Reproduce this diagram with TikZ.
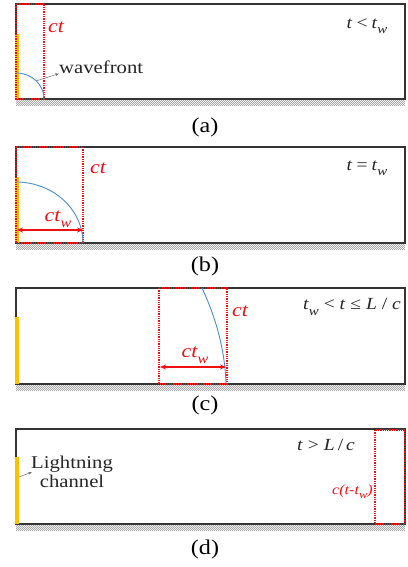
\documentclass[tikz,border=0pt]{standalone}
\usepackage{fontspec}
\setmainfont{Liberation Serif}[FakeStretch=1.15]
\usetikzlibrary{arrows.meta}
\definecolor{chanyellow}{HTML}{FFC000}
\definecolor{wblue}{HTML}{4A90D0}
\definecolor{redd}{HTML}{F01010}
\definecolor{boxgray}{HTML}{333333}
\newcommand\mysub[2]{\raisebox{-0.3em}{\fontsize{#1}{#1}\selectfont\itshape #2}}
\newcommand\myground[1]{%
  \begin{scope}
    \clip (16,#1) rectangle (405,#1+7);
    \foreach \hx in {8,10,...,408} {\draw[hatchline] (\hx,#1+7) -- (\hx+7,#1);}
  \end{scope}}
\tikzset{
  boxline/.style={draw=boxgray, line width=1.3pt},
  hatchline/.style={draw=black!40, line width=0.4pt},
  reddot/.style={draw=redd, densely dotted, line width=1.3pt},
  chan/.style={draw=chanyellow, line width=3.5pt},
  wave/.style={draw=wblue, line width=0.9pt},
  redlbl/.style={text=redd, font=\fontsize{19}{19}\selectfont\itshape, inner sep=0pt},
  smallredlbl/.style={text=redd, font=\fontsize{14}{14}\selectfont\itshape, inner sep=0pt},
  condlbl/.style={text=black!85, font=\fontsize{17}{17}\selectfont, inner sep=0pt},
  annot/.style={text=black!85, font=\fontsize{18}{19}\selectfont, inner sep=0pt},
  caplbl/.style={font=\fontsize{21}{21}\selectfont, inner sep=0pt},
  grayarrow/.style={draw=black!55, line width=0.5pt, -{Stealth[length=4pt,width=3pt]}},
  widtharrow/.style={draw=redd, line width=1.2pt, {Stealth[length=6pt,width=5pt]}-{Stealth[length=6pt,width=5pt]}},
}
\begin{document}
\begin{tikzpicture}[x=1pt,y=-1pt]
\useasboundingbox (0,0) rectangle (407,567);
\fill[white] (0,0) rectangle (407,567);

% ---------- panel (a) ----------
\begin{scope}[shift={(0,4)}]
  \myground{95}
  \draw[boxline] (16,0) rectangle (405,95);
  \draw[chan] (17,30) -- (17,95);
  \draw[reddot] (16,0) rectangle (44,95);
  \draw[wave] plot[domain=0:90, smooth, samples=30] ({16+28*cos(\x)},{95-26*sin(\x)});
  \coordinate (wa) at (36,77);
  \node[redlbl, anchor=west] (cta) at (48,23) {ct};
  \node[annot, anchor=west] (wf) at (59,63) {wavefront};
  \draw[grayarrow] (wa) -- (wf.south west);
  \node[condlbl] (conda) at (367,22) {\textit{t}\hspace{4pt}<\hspace{4pt}\textit{t}\mysub{13}{w}};
  \node[caplbl] (capa) at (205,123) {(a)};
\end{scope}

% ---------- panel (b) ----------
\begin{scope}[shift={(0,147)}]
  \myground{96}
  \draw[boxline] (16,0) rectangle (405,96);
  \draw[chan] (17,30) -- (17,96);
  \draw[reddot] (16,0) rectangle (83,96);
  \draw[wave] plot[domain=0:90, smooth, samples=40] ({16+67*cos(\x)},{96-61*sin(\x)});
  \coordinate (bl) at (17,83);
  \coordinate (br) at (83,83);
  \draw[widtharrow] (bl) -- (br);
  \node[redlbl] (ctwb) at (58,72) {ct\mysub{14}{w}};
  \node[redlbl, anchor=west] (ctb) at (90,21) {ct};
  \node[condlbl] (condb) at (367,21) {\textit{t}\hspace{4pt}=\hspace{4pt}\textit{t}\mysub{13}{w}};
  \node[caplbl] (capb) at (205,119) {(b)};
\end{scope}

% ---------- panel (c) ----------
\begin{scope}[shift={(0,288)}]
  \myground{96}
  \draw[boxline] (16,0) rectangle (405,96);
  \draw[chan] (17,29) -- (17,96);
  \draw[reddot] (159,0) rectangle (227,96);
  \draw[wave] (202,0) .. controls (216,30) and (225,62) .. (226,96);
  \coordinate (cl) at (160,79);
  \coordinate (cr) at (226,79);
  \draw[widtharrow] (cl) -- (cr);
  \node[redlbl] (ctwc) at (195,67) {ct\mysub{14}{w}};
  \node[redlbl, anchor=west] (ctc) at (232,23) {ct};
  \node[condlbl, anchor=east] (condc) at (401,19) {\textit{t}\mysub{13}{w} < \textit{t} ≤ \textit{L} / \textit{c}};
  \node[caplbl] (capc) at (205,117) {(c)};
\end{scope}

% ---------- panel (d) ----------
\begin{scope}[shift={(0,429)}]
  \myground{95}
  \draw[boxline] (16,0) rectangle (405,95);
  \draw[chan] (17,28) -- (17,95);
  \draw[reddot] (375,1) rectangle (405,95);
  \node[smallredlbl, anchor=east] (ctd) at (373,63) {c(t-t\mysub{11}{w})};
  \node[condlbl] (condd) at (326,16) {\textit{t}\hspace{5pt}>\hspace{5pt}\textit{L}\hspace{3pt}/\hspace{3pt}\textit{c}};
  \node[annot, align=center, anchor=west] (lc) at (31,43) {Lightning\\channel};
  \coordinate (ld) at (19,48);
  \draw[grayarrow] (ld) -- ([xshift=1pt]lc.west);
  \node[caplbl] (capd) at (205,120) {(d)};
\end{scope}
\end{tikzpicture}
\end{document}
